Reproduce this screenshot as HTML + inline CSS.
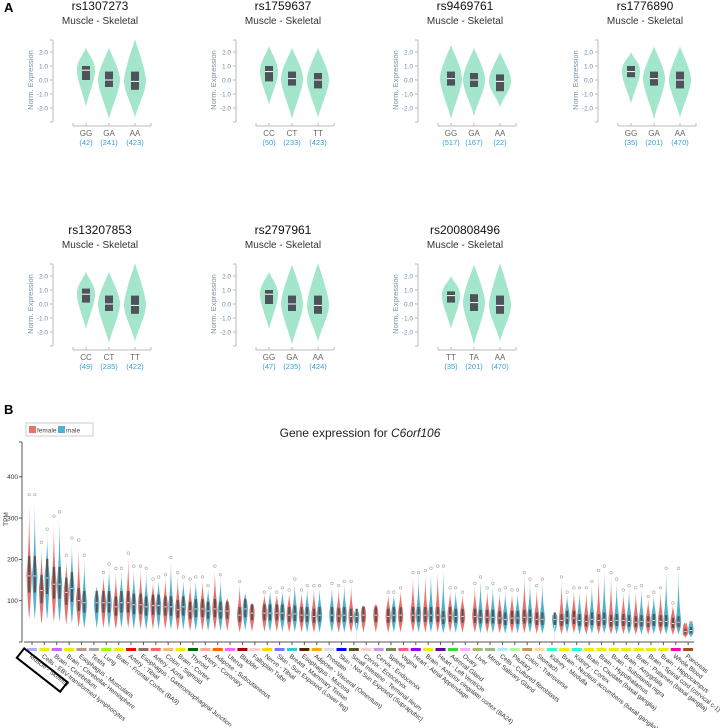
<!DOCTYPE html>
<html><head><meta charset="utf-8"><style>
body{margin:0;background:#fff;}
svg{display:block;font-family:"Liberation Sans",sans-serif;}
</style></head><body>
<svg id="fig" width="720" height="728" viewBox="0 0 720 728">
<text x="4" y="12" font-size="13" font-weight="bold">A</text>
<text x="4" y="414" font-size="13" font-weight="bold">B</text>
<g id="pa"></g>
<g id="pb">
<rect x="26" y="423" width="67" height="13" fill="#fff" stroke="#ccc"/>
<rect x="29" y="426" width="7" height="7" fill="#e8716e"/>
<text x="37" y="432.5" font-size="6.5" fill="#444">female</text>
<rect x="58" y="426" width="7" height="7" fill="#4fb3cf"/>
<text x="66" y="432.5" font-size="6.5" fill="#444">male</text>
<text x="360" y="437" font-size="12" text-anchor="middle" fill="#222">Gene expression for <tspan font-style="italic">C6orf106</tspan></text>
<text x="8" y="519" font-size="6.5" fill="#333" transform="rotate(-90 8 519)" text-anchor="middle">TPM</text>
</g>
</svg>
<script>
// ---------- Panel A data ----------
const snps = ["rs1307273","rs1759637","rs9469761","rs1776890","rs13207853","rs2797961","rs200808496"];
const genotypes = [["GG","GA","AA"],["CC","CT","TT"],["GG","GA","AA"],["GG","GA","AA"],["CC","CT","TT"],["GG","GA","AA"],["TT","TA","AA"]];
const counts = [[42,241,423],[50,233,423],[517,167,22],[35,201,470],[49,235,422],[47,235,424],[35,201,470]];
const medians = [[0.7,0.0,-0.1],[0.6,0.1,0.0],[0.1,0.0,-0.1],[0.6,0.1,0.0],[0.7,0.0,-0.1],[0.7,0.0,-0.1],[0.6,0.1,-0.1]];
const q1s = [[0.0,-0.5,-0.7],[-0.1,-0.4,-0.6],[-0.4,-0.5,-0.8],[0.2,-0.4,-0.6],[0.1,-0.5,-0.7],[0.0,-0.5,-0.7],[0.1,-0.5,-0.7]];
const q3s = [[1.0,0.6,0.6],[1.0,0.6,0.5],[0.6,0.5,0.4],[1.0,0.6,0.6],[1.1,0.6,0.6],[1.0,0.6,0.6],[0.9,0.7,0.6]];
const mins = [[-1.9,-2.8,-2.7],[-1.8,-2.8,-2.7],[-2.8,-2.6,-2.0],[-1.7,-2.8,-2.7],[-1.8,-2.8,-2.7],[-1.8,-2.9,-2.7],[-1.8,-2.9,-2.7]];
const maxs = [[2.3,2.3,2.9],[2.4,2.3,2.3],[2.5,2.3,2.0],[2.0,2.4,2.4],[2.3,2.3,2.9],[2.3,2.8,2.9],[2.0,2.8,2.9]];
const yTicksA = [2,1,0,-1,-2];
const yTickLabelsA = ["2.0","1.0","0.0","-1.0","-2.0"];

const NS="http://www.w3.org/2000/svg";
function mk(tag,attrs,parent,text){const e=document.createElementNS(NS,tag);for(const k in attrs)e.setAttribute(k,attrs[k]);if(text!==undefined)e.textContent=text;parent.appendChild(e);return e;}
const pa=document.getElementById('pa');
const colOff=[0,183,365,545];
snps.forEach((s,i)=>{
  const ox=colOff[i%4], oy=i<4?0:224;
  const g=mk('g',{transform:`translate(${ox},${oy})`},pa);
  
  
  const yA=v=>80-v*14;
  const t=mk('text',{x:100,y:10,'font-size':12,'text-anchor':'middle',fill:'#111'},g,s);
  
  
  const st=mk('text',{x:100,y:24,'font-size':10,'text-anchor':'middle',fill:'#333'},g,'Muscle - Skeletal');
  
  
  const ya=mk('line',{x1:53,y1:40,x2:53,y2:122,stroke:'#bbb'},g);
  
  
  mk('line',{x1:50,y1:40,x2:53,y2:40,stroke:'#bbb'},g);
  mk('line',{x1:50,y1:122,x2:53,y2:122,stroke:'#bbb'},g);
  yTicksA.forEach((v,k)=>{
    mk('line',{x1:50,y1:yA(v),x2:53,y2:yA(v),stroke:'#bbb'},g);
    const tl=mk('text',{x:48,y:yA(v)+2.5,'font-size':6.5,'text-anchor':'end',fill:'#6a8fa8'},g,yTickLabelsA[k]);
    
    
  });
  const yl=mk('text',{x:33,y:80,'font-size':7.5,'text-anchor':'middle',fill:'#7a90a0',transform:'rotate(-90 33 80)'},g,'Norm. Expression');
  
  
  const xa=mk('line',{x1:73,y1:126,x2:151,y2:126,stroke:'#bbb'},g);
  
  
  mk('line',{x1:73,y1:123,x2:73,y2:126,stroke:'#bbb'},g);
  mk('line',{x1:151,y1:123,x2:151,y2:126,stroke:'#bbb'},g);
  const gx=[86,109,135];
  genotypes[i].forEach((gt,j)=>{
    const cx=gx[j];
    const top=yA(maxs[i][j]), bot=yA(mins[i][j]), mid=yA(medians[i][j]);
    const w=j===0&&counts[i][j]<100?9:11;
    const d=`M${cx},${top} C${cx+2},${top+6} ${cx+w},${mid-10} ${cx+w},${mid} C${cx+w},${mid+10} ${cx+2},${bot-10} ${cx},${bot} C${cx-2},${bot-10} ${cx-w},${mid+10} ${cx-w},${mid} C${cx-w},${mid-10} ${cx-2},${top+6} ${cx},${top}Z`;
    const v=mk('path',{d:d,fill:'#a4e6cc'},g);
    
    
    const b=mk('rect',{x:cx-4,y:yA(q3s[i][j]),width:8,height:yA(q1s[i][j])-yA(q3s[i][j]),fill:'#4d5358'},g);
    
    
    mk('line',{x1:cx-4,y1:mid,x2:cx+4,y2:mid,stroke:'#fff','stroke-width':1},g);
    mk('line',{x1:cx,y1:123,x2:cx,y2:126,stroke:'#bbb'},g);
    const gl=mk('text',{x:cx,y:136,'font-size':8,'text-anchor':'middle',fill:'#666'},g,gt);
    
    
    const cl=mk('text',{x:cx,y:145,'font-size':7.5,'text-anchor':'middle',fill:'#3aa0d0'},g,'('+counts[i][j]+')');
    
    
  });
});

// ---------- Panel B data ----------
const tissues = ["Muscle - Skeletal","Cells - EBV-transformed lymphocytes","Brain - Cerebellum","Brain - Cerebellar Hemisphere","Esophagus - Muscularis","Testis","Lung","Brain - Frontal Cortex (BA9)","Artery - Tibial","Esophagus - Gastroesophageal Junction","Artery - Aorta","Colon - Sigmoid","Brain - Cortex","Thyroid","Artery - Coronary","Adipose - Subcutaneous","Uterus","Bladder","Fallopian Tube","Nerve - Tibial","Skin - Sun Exposed (Lower leg)","Breast - Mammary Tissue","Esophagus - Mucosa","Adipose - Visceral (Omentum)","Prostate","Skin - Not Sun Exposed (Suprapubic)","Small Intestine - Terminal Ileum","Cervix - Ectocervix","Cervix - Endocervix","Spleen","Vagina","Heart - Atrial Appendage","Brain - Anterior cingulate cortex (BA24)","Heart - Left Ventricle","Adrenal Gland","Ovary","Liver","Minor Salivary Gland","Cells - Cultured fibroblasts","Pituitary","Colon - Transverse","Stomach","Kidney - Medulla","Brain - Nucleus accumbens (basal ganglia)","Kidney - Cortex","Brain - Caudate (basal ganglia)","Brain - Hypothalamus","Brain - Substantia nigra","Brain - Amygdala","Brain - Putamen (basal ganglia)","Brain - Spinal cord (cervical c-1)","Brain - Hippocampus","Whole Blood","Pancreas"];
const femaleMedian = [160,125,140,120,100,null,95,85,95,90,88,85,78,75,80,80,75,65,70,70,70,65,65,62,null,63,62,65,65,62,65,65,65,65,65,62,62,60,58,58,60,55,null,52,58,50,52,50,52,48,48,50,45,25];
const maleMedian = [160,155,140,130,95,95,95,95,90,85,88,85,85,80,75,75,null,80,null,70,70,68,65,65,65,65,62,null,null,65,null,65,65,58,62,null,60,60,55,58,60,55,55,58,52,55,55,52,50,50,52,50,48,28];
const femaleMax = [340,230,290,200,235,null,160,170,205,175,145,155,160,145,150,175,105,140,90,115,115,120,120,130,null,130,140,85,90,115,125,160,165,175,125,115,135,125,120,120,160,130,null,150,125,125,165,160,120,125,105,125,90,40];
const maleMax = [340,260,300,240,200,135,180,170,175,170,150,195,150,150,130,155,null,120,null,125,125,145,130,130,135,140,null,null,null,115,null,160,170,175,125,null,150,135,125,120,145,145,null,115,125,140,175,145,130,130,115,170,170,45];
const tissueColors = ["#aab0ff","#eeee00","#cc66ff","#eeee00","#bb9988","#aaaaaa","#99ff00","#eeee00","#ff0000","#8b7355","#ff6666","#eebb77","#eeee00","#006600","#ffaa99","#ff6600","#ff66ff","#aa0000","#ffcccc","#ffd700","#7777ff","#33cccc","#552200","#ffaa00","#dddddd","#0000ff","#555522","#ffcccc","#cc99dd","#778855","#ff5599","#9900ff","#eeee00","#660099","#33dd33","#ffaaff","#aabb66","#99bb88","#aaeeff","#aaff99","#cc9955","#ffdd99","#33ffcc","#eeee00","#33ffcc","#eeee00","#eeee00","#eeee00","#eeee00","#eeee00","#eeee00","#eeee00","#ff00bb","#995522"];
const yTicksB = [100,200,300,400];

const pb=document.getElementById('pb');
const yB=v=>642-v*0.413;
const xB=i=>32+i*12.38;
const yaxB=mk('line',{x1:22,y1:442,x2:22,y2:642,stroke:'#555'},pb);


mk('line',{x1:19,y1:442,x2:22,y2:442,stroke:'#555'},pb);
mk('line',{x1:19,y1:642,x2:22,y2:642,stroke:'#555'},pb);
yTicksB.forEach(v=>{
  mk('line',{x1:19,y1:yB(v),x2:22,y2:yB(v),stroke:'#555'},pb);
  const tl=mk('text',{x:18,y:yB(v)+2.3,'font-size':6.5,'text-anchor':'end',fill:'#333'},pb,String(v));
  
  
});
const xaxB=mk('line',{x1:24,y1:642,x2:694,y2:642,stroke:'#555'},pb);


function violinB(cx,med,max,col,name){
  const top=yB(max), bot=yB(med*0.35), mid=yB(med), w=2.6;
  const d=`M${cx},${top} C${cx+0.3},${mid-12} ${cx+w},${mid-7} ${cx+w},${mid} C${cx+w},${mid+6} ${cx+0.6},${bot-4} ${cx},${bot} C${cx-0.6},${bot-4} ${cx-w},${mid+6} ${cx-w},${mid} C${cx-w},${mid-7} ${cx-0.3},${mid-12} ${cx},${top}Z`;
  const v=mk('path',{d:d,fill:col},pb);
  
  
  mk('rect',{x:cx-1.1,y:yB(med*1.3),width:2.2,height:yB(med*0.75)-yB(med*1.3),fill:'#555'},pb);
  mk('line',{x1:cx-1.1,y1:mid,x2:cx+1.1,y2:mid,stroke:'#fff','stroke-width':0.8},pb);
  if(max>med*1.6){mk('circle',{cx:cx,cy:yB(max*1.05),r:1.3,fill:'none',stroke:'#aaa','stroke-width':0.6},pb);}
}
tissues.forEach((t,i)=>{
  const cx=xB(i);
  mk('line',{x1:cx,y1:642,x2:cx,y2:645,stroke:'#555'},pb);
  if(femaleMedian[i]!==null) violinB(cx-2.8,femaleMedian[i],femaleMax[i],'#e8716e','violin-female-'+i);
  if(maleMedian[i]!==null) violinB(cx+2.8,maleMedian[i],maleMax[i],'#4fb3cf','violin-male-'+i);
  const sw=mk('rect',{x:cx-5,y:648,width:10,height:3,fill:tissueColors[i]},pb);
  
  
  const lx=cx-3, ly=657;
  const tl=mk('text',{x:lx,y:ly,'font-size':6.3,fill:'#333',transform:`rotate(38 ${lx} ${ly})`},pb,t);
  
  
});
const hl=mk('rect',{x:27,y:648,width:55,height:12,fill:'none',stroke:'#000','stroke-width':2,transform:'rotate(38 27 648) translate(-2 2)'},pb);


</script>
</body></html>
